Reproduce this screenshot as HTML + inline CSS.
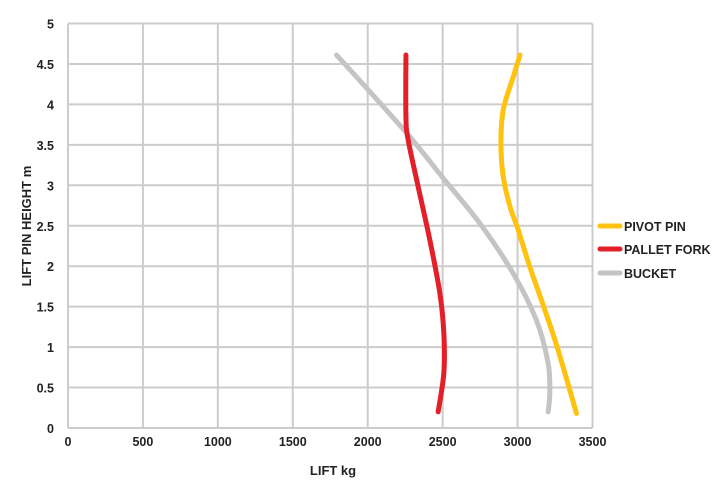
<!DOCTYPE html>
<html><head><meta charset="utf-8"><style>
body{margin:0;background:#fff}
svg{display:block;font-family:"Liberation Sans",sans-serif;font-weight:bold;fill:#222}
</style></head><body>
<svg width="716" height="489" id="c"></svg>
<script>
const xTicks=[0,500,1000,1500,2000,2500,3000,3500];
const yTicks=[0,0.5,1,1.5,2,2.5,3,3.5,4,4.5,5];
const pivotX=[3016,2971,2904,2889,2904,2949,3004,3082,3182,3271,3393];
const pivotY=[4.61,4.34,3.93,3.52,3.11,2.74,2.45,1.99,1.46,0.96,0.18];
const forkX=[2255,2255,2270,2337,2415,2482,2508,2508,2470];
const forkY=[4.61,3.85,3.56,2.98,2.32,1.66,1.17,0.68,0.20];
const bucketX=[1792,2003,2281,2503,2748,2971,3126,3204,3215,3204];
const bucketY=[4.61,4.18,3.60,3.09,2.53,1.91,1.33,0.80,0.43,0.20];
const L=68,R=592.5,T=23.5,B=428;
const sx=v=>L+(v/3500)*(R-L), sy=v=>B-(v/5)*(B-T);
const svg=document.getElementById('c');const NS='http://www.w3.org/2000/svg';
function mk(t,a,p){const e=document.createElementNS(NS,t);for(const k in a)e.setAttribute(k,a[k]);(p||svg).appendChild(e);return e;}
xTicks.forEach(v=>{const l=mk('line',{x1:sx(v),x2:sx(v),y1:T,y2:B,stroke:'#cccccc','stroke-width':2});


const t=mk('text',{x:sx(v)+(v===0?0:0),y:446,'text-anchor':'middle','font-size':12.5});t.textContent=v;

});
yTicks.forEach(v=>{const l=mk('line',{x1:L,x2:R,y1:sy(v),y2:sy(v),stroke:'#cccccc','stroke-width':2});


const t=mk('text',{x:54,y:sy(v)+5,'text-anchor':'end','font-size':12.5});t.textContent=v;

});
function path(xs,ys){const p=xs.map((x,i)=>[sx(x),sy(ys[i])]);let d='M'+p[0][0]+','+p[0][1];
for(let i=0;i<p.length-1;i++){const p0=p[i-1]||p[i],p1=p[i],p2=p[i+1],p3=p[i+2]||p2;
d+=' C'+(p1[0]+(p2[0]-p0[0])/6)+','+(p1[1]+(p2[1]-p0[1])/6)+' '+(p2[0]-(p3[0]-p1[0])/6)+','+(p2[1]-(p3[1]-p1[1])/6)+' '+p2[0]+','+p2[1];}return d;}
const series=[[bucketX,bucketY,'#c4c4c4','bucket-line'],[forkX,forkY,'#e3202a','pallet-fork-line'],[pivotX,pivotY,'#ffc20e','pivot-pin-line']];
series.forEach(s=>{const e=mk('path',{d:path(s[0],s[1]),fill:'none',stroke:s[2],'stroke-width':5,'stroke-linecap':'round'});

});
const leg=[['PIVOT PIN','#ffc20e',226],['PALLET FORK','#e3202a',249],['BUCKET','#c4c4c4',273]];
leg.forEach(g=>{const l=mk('line',{x1:600,x2:620,y1:g[2],y2:g[2],stroke:g[1],'stroke-width':5,'stroke-linecap':'round'});


const t=mk('text',{x:624,y:g[2]+5,'font-size':12.5});t.textContent=g[0];

});
const xt=mk('text',{x:333,y:475,'text-anchor':'middle','font-size':13});xt.textContent='LIFT kg';


const yt=mk('text',{x:0,y:0,'text-anchor':'middle','font-size':13,transform:'translate(31,226) rotate(-90)'});yt.textContent='LIFT PIN HEIGHT m';


</script>
</body></html>
